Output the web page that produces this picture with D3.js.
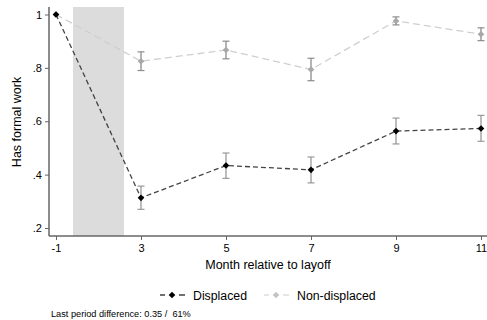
<!DOCTYPE html>
<html>
<head>
<meta charset="utf-8">
<script src="https://cdn.jsdelivr.net/npm/d3@7"></script>
<style>
  html, body { margin: 0; padding: 0; background: #fff; }
  svg { display: block; font-family: "Liberation Sans", Arial, Helvetica, sans-serif; }
</style>
</head>
<body>
<svg id="chart" width="487" height="320"></svg>
<script>
// Months relative to layoff (plotted at evenly spaced positions)
const months = [-1, 3, 5, 7, 9, 11];
const yTicks = [0.2, 0.4, 0.6, 0.8, 1];
const yTickLabels = [".2", ".4", ".6", ".8", "1"];

// Share with formal work, with confidence bounds
const displaced = [1.0, 0.313, 0.434, 0.418, 0.563, 0.573];
const displacedLo = [1.0, 0.270, 0.386, 0.369, 0.515, 0.525];
const displacedHi = [1.0, 0.357, 0.481, 0.466, 0.612, 0.622];

const nonDisplaced = [1.0, 0.825, 0.867, 0.794, 0.976, 0.926];
const nonDisplacedLo = [1.0, 0.790, 0.834, 0.752, 0.961, 0.902];
const nonDisplacedHi = [1.0, 0.860, 0.900, 0.836, 0.991, 0.950];

// Shaded layoff window, in index units between first two periods
const bandRange = [0.2, 0.8];

const seriesNames = ["Displaced", "Non-displaced"];
const footnote = "Last period difference: 0.35 /  61%";

const svg = d3.select("#chart");
const x = d3.scaleLinear().domain([0, months.length - 1]).range([56, 481]);
const y = d3.scaleLinear().domain([0.2, 1]).range([228, 14.5]);
const plotTop = 7, plotBottom = 236, axisX = 49;

// layoff window band
svg.append("rect")
  .attr("x", x(bandRange[0])).attr("y", plotTop)
  .attr("width", x(bandRange[1]) - x(bandRange[0]))
  .attr("height", plotBottom - plotTop)
  .attr("fill", "#dcdcdc");

// axes
const yAxis = d3.axisLeft(y).tickValues(yTicks).tickFormat((d, i) => yTickLabels[i]).tickSize(4).tickPadding(3);
const gy = svg.append("g").attr("transform", `translate(${axisX},0)`).call(yAxis);
gy.select(".domain").remove();
svg.append("line").attr("x1", axisX).attr("x2", axisX).attr("y1", plotTop).attr("y2", plotBottom)
  .attr("stroke", "#666").attr("stroke-width", 1.5);

const xAxis = d3.axisBottom(x).tickValues(d3.range(months.length)).tickFormat(i => months[i]).tickSize(4).tickPadding(4);
const gx = svg.append("g").attr("transform", `translate(0,${plotBottom})`).call(xAxis);
gx.select(".domain").remove();
svg.append("line").attr("x1", axisX).attr("x2", 487).attr("y1", plotBottom).attr("y2", plotBottom)
  .attr("stroke", "#666").attr("stroke-width", 1.5);

[gx, gy].forEach(g => {
  g.selectAll(".tick line").attr("stroke", "#666");
  g.selectAll(".tick text").attr("fill", "#000").style("font-size", "11px").style("font-family", "Liberation Sans, Arial, sans-serif");
});

// axis titles
svg.append("text").attr("x", 268).attr("y", 269).attr("text-anchor", "middle")
  .style("font-size", "12.5px").text("Month relative to layoff");
svg.append("text").attr("transform", "translate(21,122) rotate(-90)").attr("text-anchor", "middle")
  .style("font-size", "12.5px").text("Has formal work");

const diamond = d3.symbol().type(d3.symbolDiamond2).size(28);

function drawSeries(vals, lo, hi, lineColor, markerColor, barColor, dash) {
  const idx = d3.range(vals.length);
  svg.append("path").datum(idx)
    .attr("d", d3.line().x(i => x(i)).y(i => y(vals[i])))
    .attr("fill", "none").attr("stroke", lineColor).attr("stroke-width", 1.3)
    .attr("stroke-dasharray", dash);
  const eb = svg.append("g");
  idx.filter(i => hi[i] !== lo[i]).forEach(i => {
    eb.append("line").attr("x1", x(i)).attr("x2", x(i)).attr("y1", y(lo[i])).attr("y2", y(hi[i]))
      .attr("stroke", barColor).attr("stroke-width", 1.3);
    [lo[i], hi[i]].forEach(v => eb.append("line")
      .attr("x1", x(i) - 3.5).attr("x2", x(i) + 3.5).attr("y1", y(v)).attr("y2", y(v))
      .attr("stroke", barColor).attr("stroke-width", 1.2));
  });
  svg.append("g").selectAll("path").data(idx).join("path")
    .attr("transform", i => `translate(${x(i)},${y(vals[i])})`)
    .attr("d", diamond).attr("fill", markerColor);
}

drawSeries(nonDisplaced, nonDisplacedLo, nonDisplacedHi, "#cfcfcf", "#a8a8a8", "#8c8c8c", "7,4");
drawSeries(displaced, displacedLo, displacedHi, "#444", "#000", "#999", "5,3");

// legend
const legend = [
  { name: seriesNames[0], line: "#222", marker: "#000", x0: 160 },
  { name: seriesNames[1], line: "#d8d8d8", marker: "#c4c4c4", x0: 264 }
];
legend.forEach(l => {
  const g = svg.append("g").attr("transform", `translate(${l.x0},295)`);
  g.append("line").attr("x1", 0).attr("x2", 5).attr("stroke", l.line).attr("stroke-width", 1.3);
  g.append("line").attr("x1", 19).attr("x2", 25).attr("stroke", l.line).attr("stroke-width", 1.3);
  g.append("path").attr("transform", "translate(12,0)").attr("d", diamond).attr("fill", l.marker);
  g.append("text").attr("x", 33).attr("y", 4.5).style("font-size", "12.3px").text(l.name);
});

svg.append("text").attr("x", 51).attr("y", 317).style("font-size", "9.2px")
  .style("white-space", "pre").text(footnote);
</script>
</body>
</html>
